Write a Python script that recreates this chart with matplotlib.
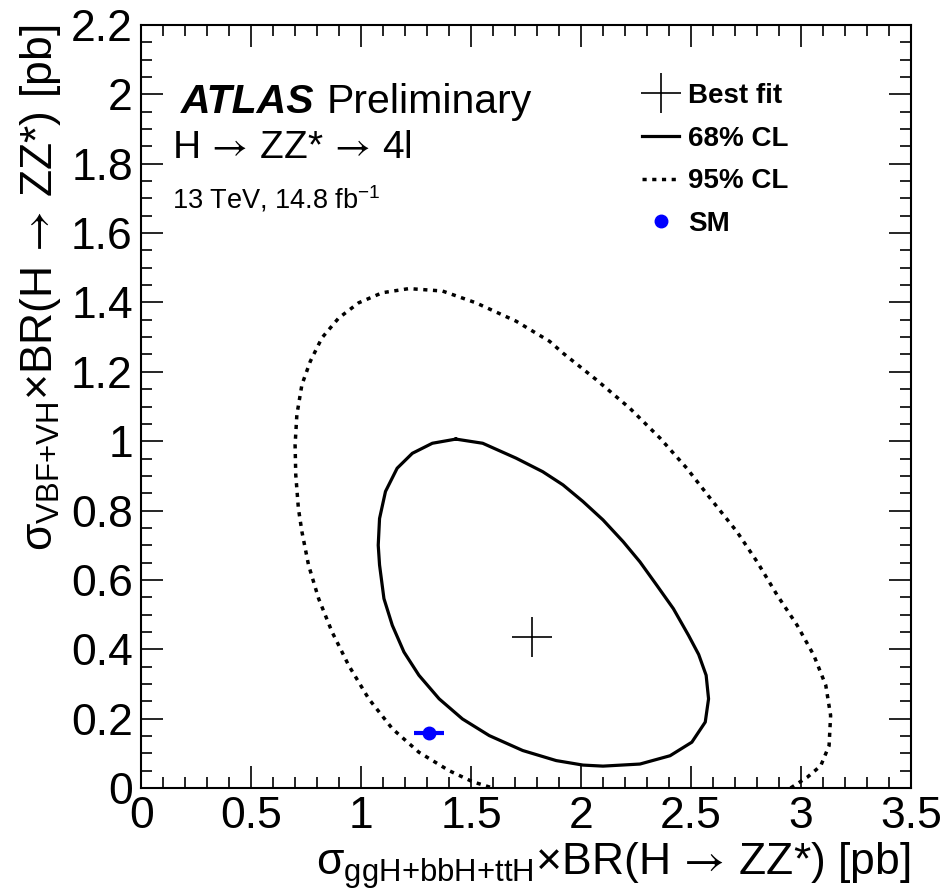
import numpy as np
import matplotlib
matplotlib.use('Agg')
import matplotlib.pyplot as plt
from matplotlib.lines import Line2D
from matplotlib.ticker import MultipleLocator

plt.rcParams['font.family'] = ['Liberation Sans', 'DejaVu Sans']
plt.rcParams['mathtext.fontset'] = 'custom'
plt.rcParams['mathtext.rm'] = 'Liberation Sans'
plt.rcParams['mathtext.it'] = 'Liberation Sans:italic'
plt.rcParams['mathtext.bf'] = 'Liberation Sans:bold'
plt.rcParams['mathtext.sf'] = 'STIXGeneral'

# best fit and SM point
best_fit = (1.775, 0.434)
sm_x, sm_y, sm_xerr = 1.309, 0.159, 0.067

# 68% CL contour (closed)
cl68_x = [1.431, 1.324, 1.233, 1.164, 1.111, 1.084, 1.078, 1.084, 1.104, 1.142,
          1.195, 1.263, 1.355, 1.461, 1.583, 1.735, 1.887, 2.009, 2.100, 2.268,
          2.405, 2.504, 2.565, 2.580, 2.569, 2.535, 2.489, 2.420, 2.344, 2.268,
          2.192, 2.100, 2.009, 1.918, 1.826, 1.705, 1.553, 1.431]
cl68_y = [1.006, 0.994, 0.965, 0.922, 0.855, 0.777, 0.700, 0.643, 0.546, 0.469,
          0.392, 0.325, 0.257, 0.199, 0.151, 0.108, 0.079, 0.066, 0.063, 0.069,
          0.093, 0.132, 0.190, 0.257, 0.325, 0.385, 0.440, 0.517, 0.585, 0.652,
          0.710, 0.773, 0.826, 0.874, 0.912, 0.951, 0.994, 1.006]

# 95% CL contour (cut by y=0)
cl95_x = [2.953, 3.029, 3.090, 3.128, 3.135, 3.113, 3.059, 2.983, 2.892, 2.801,
          2.709, 2.588, 2.481, 2.359, 2.222, 2.070, 1.918, 1.857, 1.705, 1.522,
          1.370, 1.218, 1.096, 0.989, 0.898, 0.822, 0.769, 0.731, 0.708, 0.700,
          0.703, 0.715, 0.731, 0.761, 0.807, 0.868, 0.944, 1.035, 1.142, 1.263,
          1.400, 1.507, 1.598]
cl95_y = [0.000, 0.031, 0.064, 0.122, 0.209, 0.296, 0.382, 0.469, 0.556, 0.652,
          0.739, 0.835, 0.922, 1.009, 1.095, 1.177, 1.254, 1.288, 1.346, 1.399,
          1.433, 1.440, 1.428, 1.399, 1.355, 1.298, 1.230, 1.163, 1.076, 0.989,
          0.903, 0.806, 0.739, 0.643, 0.546, 0.450, 0.353, 0.257, 0.171, 0.103,
          0.050, 0.018, 0.000]

fig = plt.figure(figsize=(9.41, 8.94), dpi=100)
ax = fig.add_axes([0.150, 0.1186, 0.818, 0.8534])

ax.plot(cl95_x, cl95_y, color='black', lw=2.5, linestyle=(0, (1.2, 1.6)))
ax.plot(cl68_x, cl68_y, color='black', lw=2.3)
ax.plot(best_fit[0], best_fit[1], marker='+', color='black', markersize=29, mew=1.2, linestyle='none')
ax.errorbar(sm_x, sm_y, xerr=sm_xerr, fmt='o', color='blue', markersize=9, elinewidth=3, capsize=0)

ax.set_xlim(0, 3.5)
ax.set_ylim(0, 2.2)
ax.xaxis.set_major_locator(MultipleLocator(0.5))
ax.xaxis.set_minor_locator(MultipleLocator(0.1))
ax.yaxis.set_major_locator(MultipleLocator(0.2))
ax.yaxis.set_minor_locator(MultipleLocator(0.05))
ax.xaxis.set_major_formatter(plt.FuncFormatter(lambda v, p: '%g' % v))
ax.yaxis.set_major_formatter(plt.FuncFormatter(lambda v, p: '%g' % v))
ax.tick_params(which='both', direction='in', top=True, right=True, width=1.2)
ax.tick_params(which='major', length=16, labelsize=32, pad=6)
ax.tick_params(which='minor', length=8)
for s in ax.spines.values():
    s.set_linewidth(1.5)

arrow = r'$\mathsf{\,\rightarrow\,}$'
ax.set_xlabel(r'σ$_{\mathrm{ggH{+}bbH{+}ttH}}$×BR(H' + arrow + 'ZZ*) [pb]',
              fontsize=32, loc='right', labelpad=2)
ax.set_ylabel(r'σ$_{\mathrm{VBF{+}VH}}$×BR(H' + arrow + 'ZZ*) [pb]',
              fontsize=32, loc='top', labelpad=6)

ax.text(0.051, 0.885, 'ATLAS', transform=ax.transAxes, fontsize=29.5,
        fontweight='bold', fontstyle='italic', va='baseline')
ax.text(0.2416, 0.885, 'Preliminary', transform=ax.transAxes, fontsize=29.5, va='baseline')
ax.text(0.040, 0.826, 'H' + arrow + 'ZZ*' + arrow + '4l', transform=ax.transAxes,
        fontsize=28, va='baseline')
ax.text(0.040, 0.760, r'13 TeV, 14.8 fb$^{\mathregular{-1}}$', transform=ax.transAxes,
        fontsize=19.5, va='baseline')

handles = [
    Line2D([], [], marker='+', color='black', markersize=29, mew=1.2, linestyle='none'),
    Line2D([], [], color='black', lw=2.3),
    Line2D([], [], color='black', lw=2.5, linestyle=(0, (1.2, 1.6))),
    Line2D([], [], marker='o', color='blue', markersize=9, linestyle='none'),
]
labels = ['Best fit', '68% CL', '95% CL', 'SM']
ax.legend(handles, labels, loc='upper left', bbox_to_anchor=(0.6506, 0.924),
          frameon=False, prop={'weight': 'bold', 'size': 20}, handlelength=1.35,
          handletextpad=0.3, labelspacing=0.6, borderpad=0, borderaxespad=0)

fig.savefig('out.png', dpi=100)
